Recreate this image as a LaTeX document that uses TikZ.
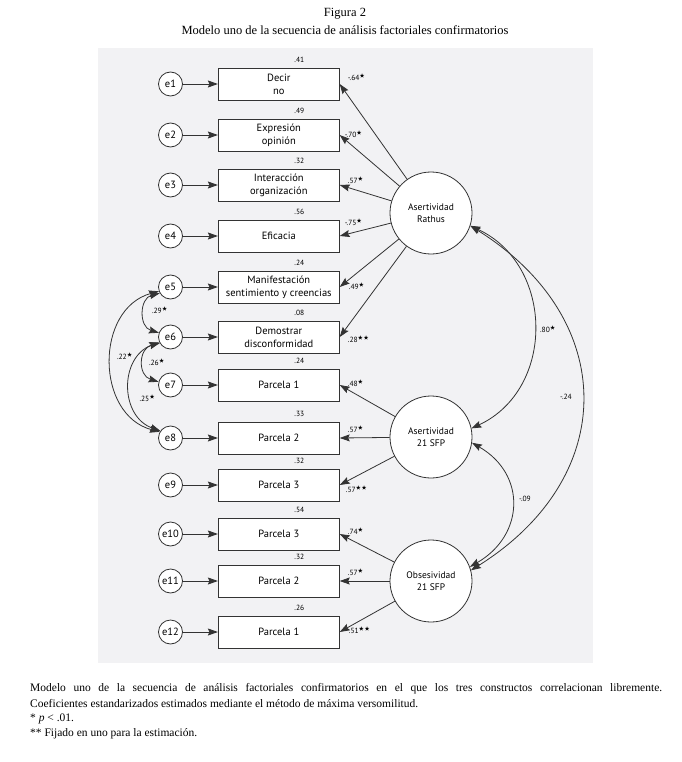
\documentclass[tikz,border=0pt]{standalone}
\usepackage{amssymb}
\usepackage{fontspec}
\setmainfont{Liberation Serif}
\newfontfamily\diagfont{PT Sans}
\usetikzlibrary{arrows.meta}
\usetikzlibrary{positioning}
\definecolor{panelgray}{RGB}{242,242,244}
\newcommand\onest{\ensuremath{^{\bigstar}}}
\newcommand\twost{\ensuremath{^{\bigstar\bigstar}}}
\tikzset{
  % arrow tip used on every path
  head/.tip = {Stealth[length=10pt,width=7pt,inset=1.5pt]},
  link/.style = {
    draw = black!80,
    line width = 0.8pt
  },
  % regression path
  one way/.style = {
    link,
    -head
  },
  % covariance path
  two way/.style = {
    link,
    head-head
  }
}
\tikzset{
  % error term
  err/.style = {
    draw = black!80,
    line width = 0.8pt,
    circle,
    fill = white,
    minimum size = 24pt,
    inner sep = 0,
    font = \diagfont\fontsize{10.5}{11}\selectfont
  },
  % observed variable
  obs/.style = {
    draw = black!80,
    line width = 0.8pt,
    rectangle,
    fill = white,
    minimum width = 121pt,
    minimum height = 32pt,
    inner sep = 0,
    align = center,
    font = \diagfont\fontsize{10.5}{13}\selectfont
  },
  % latent factor
  lat/.style = {
    draw = black!80,
    line width = 0.8pt,
    circle,
    fill = white,
    minimum size = 82pt,
    inner sep = 0,
    align = center,
    font = \diagfont\fontsize{9.5}{11.5}\selectfont
  },
  coef/.style = {
    inner sep = 0,
    font = \diagfont\fontsize{7.5}{8}\selectfont
  },
  % squared multiple correlation
  rsq/.style = {
    coef,
    anchor = south,
    yshift = 5pt,
    xshift = 20.5pt
  },
  % loading
  ld/.style = {
    coef,
    anchor = west
  },
  node distance = 35pt
}

\begin{document}
\begin{tikzpicture}[x=1pt,y=1pt]
    \useasboundingbox (0,0) rectangle (681,-762);
    \fill[panelgray] (98,-48) rectangle (593,-663);

    \node (title) at (345,-14) {\fontsize{12.5}{14}\selectfont Figura 2};
    \node (subtitle) at (345,-30) {\fontsize{12.5}{14}\selectfont Modelo uno de la secuencia de análisis factoriales confirmatorios};

    \node[err] (e1) at (170.5,-84) {e1};
    \node[err] (e2) at (170.5,-135) {e2};
    \node[err] (e3) at (170.5,-185) {e3};
    \node[err] (e4) at (170.5,-236) {e4};
    \node[err] (e5) at (170.5,-287) {e5};
    \node[err] (e6) at (170.5,-337) {e6};
    \node[err] (e7) at (170.5,-385) {e7};
    \node[err] (e8) at (170.5,-438) {e8};
    \node[err] (e9) at (170.5,-485) {e9};
    \node[err] (e10) at (170.5,-534) {e10};
    \node[err] (e11) at (170.5,-581) {e11};
    \node[err] (e12) at (170.5,-632) {e12};

    \node[obs] (decir) [right=of e1] {Decir\\no};
    \node[obs] (expresion) [right=of e2] {Expresión\\opinión};
    \node[obs] (interaccion) [right=of e3] {Interacción\\organización};
    \node[obs] (eficacia) [right=of e4] {Eficacia};
    \node[obs] (manifest) [right=of e5] {Manifestación\\sentimiento y creencias};
    \node[obs] (demostrar) [right=of e6] {Demostrar\\disconformidad};
    \node[obs] (sfpa) [right=of e7] {Parcela 1};
    \node[obs] (sfpb) [right=of e8] {Parcela 2};
    \node[obs] (sfpc) [right=of e9] {Parcela 3};
    \node[obs] (obsc) [right=of e10] {Parcela 3};
    \node[obs] (obsb) [right=of e11] {Parcela 2};
    \node[obs] (obsa) [right=of e12] {Parcela 1};

    \node[lat] (rathus) at (431,-213) {Asertividad\\Rathus};
    \node[lat] (sfp) at (431,-437) {Asertividad\\21 SFP};
    \node[lat] (obses) at (431,-581) {Obsesividad\\21 SFP};

    % squared multiple correlations
    \node[rsq] at (decir.north) {.41};
    \node[rsq] at (expresion.north) {.49};
    \node[rsq] at (interaccion.north) {.32};
    \node[rsq] at (eficacia.north) {.56};
    \node[rsq] at (manifest.north) {.24};
    \node[rsq] at (demostrar.north) {.08};
    \node[rsq] at (sfpa.north) {.24};
    \node[rsq] at (sfpb.north) {.33};
    \node[rsq] at (sfpc.north) {.32};
    \node[rsq] at (obsc.north) {.54};
    \node[rsq] at (obsb.north) {.32};
    \node[rsq] at (obsa.north) {.26};

    % error paths
    \foreach \e/\v in {e1/decir,e2/expresion,e3/interaccion,e4/eficacia,e5/manifest,e6/demostrar,e7/sfpa,e8/sfpb,e9/sfpc,e10/obsc,e11/obsb,e12/obsa}
      \draw[one way] (\e) -- (\v);

    % loadings
    \draw[one way] (rathus) -- (decir.east);
    \draw[one way] (rathus) -- (expresion.east);
    \draw[one way] (rathus) -- (interaccion.east);
    \draw[one way] (rathus) -- (eficacia.east);
    \draw[one way] (rathus) -- (manifest.east);
    \draw[one way] (rathus) -- (demostrar.east);
    \draw[one way] (sfp) -- (sfpa.east);
    \draw[one way] (sfp) -- (sfpb.east);
    \draw[one way] (sfp) -- (sfpc.east);
    \draw[one way] (obses) -- (obsc.east);
    \draw[one way] (obses) -- (obsb.east);
    \draw[one way] (obses) -- (obsa.east);

    \node[ld] at ([xshift=8pt,yshift=7pt]decir.east) {-.64\onest};
    \node[ld] at ([xshift=5pt,yshift=1pt]expresion.east) {-.70\onest};
    \node[ld] at ([xshift=8pt,yshift=5pt]interaccion.east) {.57\onest};
    \node[ld] at ([xshift=5pt,yshift=14pt]eficacia.east) {-.75\onest};
    \node[ld] at ([xshift=9pt,yshift=1pt]manifest.east) {.49\onest};
    \node[ld] at ([xshift=8pt,yshift=-2pt]demostrar.east) {.28\twost};
    \node[ld] at ([xshift=8pt,yshift=2pt]sfpa.east) {.48\onest};
    \node[ld] at ([xshift=8pt,yshift=9pt]sfpb.east) {.57\onest};
    \node[ld] at ([xshift=6pt,yshift=-4pt]sfpc.east) {.57\twost};
    \node[ld] at ([xshift=8pt,yshift=3pt]obsc.east) {.74\onest};
    \node[ld] at ([xshift=8pt,yshift=9pt]obsb.east) {.57\onest};
    \node[ld] at ([xshift=9pt,yshift=2pt]obsa.east) {.51\twost};

    % factor covariances
    \draw[two way] (rathus.-18) to[out=-25,in=25,looseness=1.17] (sfp.12);
    \draw[two way] (rathus.-18) to[out=-32,in=32,looseness=1.3] (obses.15);
    \draw[two way] (sfp.-8) to[out=-30,in=30,looseness=1.3] (obses.20);
    \node[coef] at (548,-329) {.80\onest};
    \node[coef] at (566,-397) {-.24};
    \node[coef] at (525,-499) {-.09};

    % error covariances
    \draw[two way] (e5.200) to[bend right=75,looseness=1.21] (e8.150);
    \draw[two way] (e5.210) to[bend right=75,looseness=1.36] (e6.160);
    \draw[two way] (e6.205) to[bend right=70,looseness=1.24] (e8.145);
    \draw[two way] (e6.210) to[bend right=75,looseness=1.45] (e7.165);
    \node[coef] at (125,-356) {.22\onest};
    \node[coef] at (160,-310) {.29\onest};
    \node[coef] at (147.5,-398) {.25\onest};
    \node[coef] at (157,-362) {.26\onest};

    % note
    \node[anchor=west,inner sep=0] (note1) at (30,-689) {\fontsize{11.5}{13}\selectfont\makebox[632pt][s]{Modelo uno de la secuencia de análisis factoriales confirmatorios en el que los tres constructos correlacionan libremente.}};
    \node[anchor=west,inner sep=0] (note2) at (30,-704) {\fontsize{11.5}{13}\selectfont Coeficientes estandarizados estimados mediante el método de máxima versomilitud.};
    \node[anchor=west,inner sep=0] (note3) at (30,-719) {\fontsize{11.5}{13}\selectfont * \textit{p} < .01.};
    \node[anchor=west,inner sep=0] (note4) at (30,-734) {\fontsize{11.5}{13}\selectfont ** Fijado en uno para la estimación.};
  \end{tikzpicture}
\end{document}
